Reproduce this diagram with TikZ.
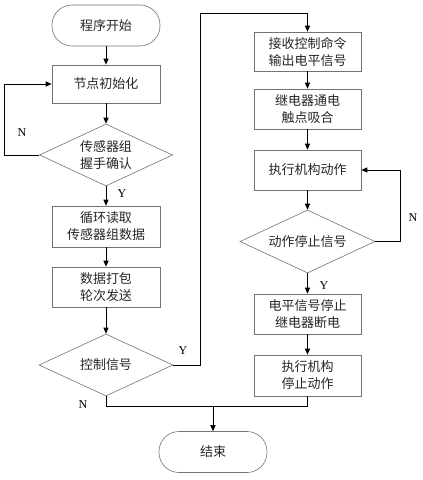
\documentclass[tikz,border=0pt]{standalone}
\usepackage{fontspec}
\newfontfamily\cjk{Noto Sans CJK SC}
\newfontfamily\lat{Liberation Serif}
\usetikzlibrary{shapes.geometric,arrows.meta}
\begin{document}
\begin{tikzpicture}[x=1pt,y=-1pt,
  box/.style={draw=black!55,line width=0.6pt,minimum width=107pt,minimum height=40pt,inner sep=0pt,align=center,font=\cjk\fontsize{13}{17}\selectfont,text=black!85},
  term/.style={box,rounded corners=20pt,minimum width=108pt,minimum height=41pt},
  dia/.style={draw=black!55,line width=0.6pt,diamond,inner sep=0pt,minimum width=134pt,minimum height=62pt},
  dtext/.style={align=center,font=\cjk\fontsize{13}{17}\selectfont,text=black!85},
  arr/.style={line width=1pt,-{Triangle[length=6pt,width=5pt]}},
  ln/.style={line width=1pt},
  yn/.style={font=\lat\fontsize{12}{12}\selectfont}]
\useasboundingbox (0,0) rectangle (423,480);
% left column
\node[term] (start) at (106,25.5) {程序开始};
\node[box,minimum width=108pt,minimum height=38pt] (init) at (106,84) {节点初始化};
\node[dia,minimum width=133pt] (d1) at (106,155) {};
\node[dtext] (d1t) at (d1.center) {传感器组\\握手确认};
\node[box,minimum width=108pt,minimum height=41pt] (read) at (106,226.5) {循环读取\\传感器组数据};
\node[box,minimum width=108pt] (pack) at (106,287) {数据打包\\轮次发送};
\node[dia] (d2) at (106,365) {};
\node[dtext] (d2t) at (d2.center) {控制信号};
% right column
\node[box,minimum height=39pt] (A) at (307.5,51.5) {接收控制命令\\输出电平信号};
\node[box] (B) at (307.5,109) {继电器通电\\触点吸合};
\node[box] (C) at (307.5,170) {执行机构动作};
\node[dia,minimum width=135pt,minimum height=63pt] (d3) at (307.5,241.5) {};
\node[dtext] (d3t) at (d3.center) {动作停止信号};
\node[box] (D) at (307.5,314) {电平信号停止\\继电器断电};
\node[box,minimum height=41pt] (E) at (307.5,375.5) {执行机构\\停止动作};
\node[term] (end) at (213,452) {结束};
% connectors
\draw[arr] (start) -- (init);
\draw[arr] (init) -- (d1);
\draw[arr] (d1.west) -- ++(-34.5,0) |- (init.west);
\node[yn] (n1) at (22,133) {N};
\draw[arr] (d1) -- (read);
\node[yn] (y1) at (122,194) {Y};
\draw[arr] (read) -- (pack);
\draw[arr] (pack) -- (d2);
\coordinate (t1) at (200,13);
\draw[arr] (d2.east) -| (t1) -| (A.north);
\node[yn] (y2) at (183,351) {Y};
\draw[arr] (A) -- (B);
\draw[arr] (B) -- (C);
\draw[arr] (C) -- (d3);
\coordinate (t2) at (400,241.5);
\draw[arr] (d3.east) -- (t2) |- (C.east);
\node[yn] (n3) at (413,218) {N};
\draw[arr] (d3) -- (D);
\node[yn] (y3) at (324,286) {Y};
\draw[arr] (D) -- (E);
\draw[ln] (d2.south) -- ++(0,10.5) -| (E.south);
\node[yn] (n2) at (83,405) {N};
\coordinate (m) at (213,406.5);
\draw[arr] (m) -- (end.north);
\end{tikzpicture}
\end{document}
